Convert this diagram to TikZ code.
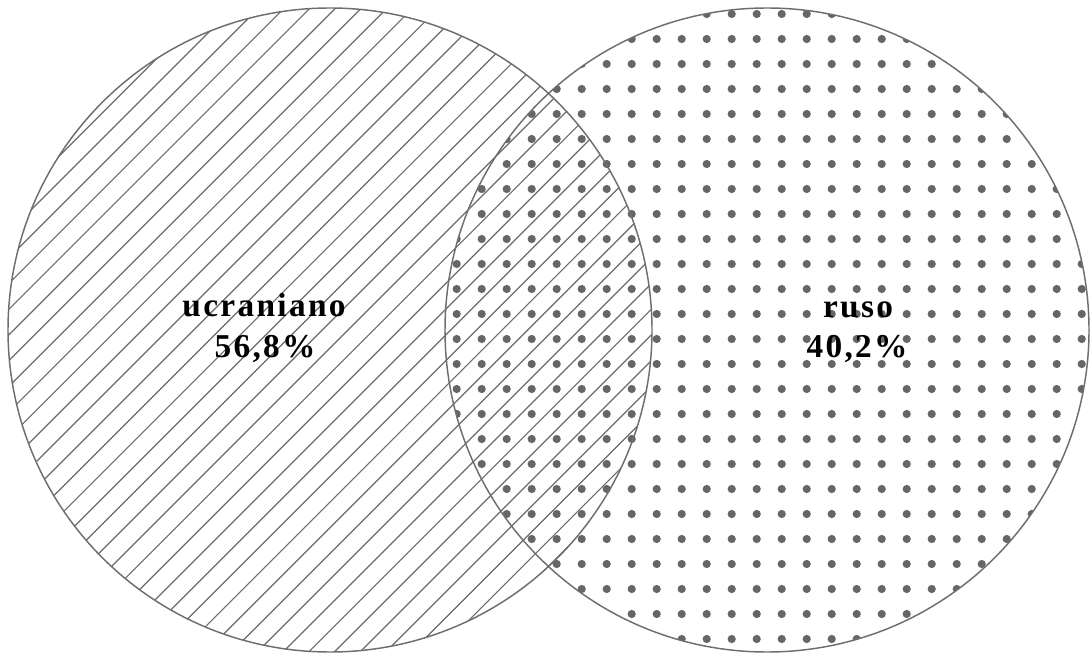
\documentclass[tikz,border=0pt]{standalone}
\usepackage{fontspec}
\setmainfont{Liberation Serif}
\newfontfamily\etiqfont[LetterSpace=7]{Liberation Serif}
\usetikzlibrary{positioning}

\begin{document}
\begin{tikzpicture}[
    x=0.75pt, y=-0.75pt,
    every node/.style={font=\etiqfont\fontsize{25}{30}\selectfont\bfseries, inner sep=0pt},
    contorno/.style={draw=black!57, line width=1.1pt},
    rayado/.style={draw=black!58, line width=0.9pt},
    punto/.style={fill=black!60}
]
\useasboundingbox (0,0) rectangle (1091,655);
\coordinate (ucr) at (330,330);
\coordinate (rus) at (767,330);
% Rayado (ucraniano)
\begin{scope}
  \clip (ucr) circle[radius=322];
  \foreach \k in {-12,...,40}
    \draw[rayado] ({266.7+25.7*\k+100},-100) -- ({266.7+25.7*\k-800},800);
\end{scope}
% Puntos (ruso)
\begin{scope}
  \clip (rus) circle[radius=322];
  \foreach \i in {0,...,27}
    \foreach \j in {0,...,27}
      \fill[punto] ({431.7+25*\i},{-11+25*\j}) circle[radius=4.1];
\end{scope}
% Circulos
\draw[contorno] (ucr) circle[radius=322];
\draw[contorno] (rus) circle[radius=322];
% Etiquetas
\node[anchor=base] (ucrnom) at (264,317) {ucraniano};
\node[anchor=base] (ucrpct) at (265,358) {56,8\%};
\node[anchor=base] (rusnom) at (858,318) {ruso};
\node[anchor=base] (ruspct) at (857,358) {40,2\%};
\end{tikzpicture}
\end{document}
